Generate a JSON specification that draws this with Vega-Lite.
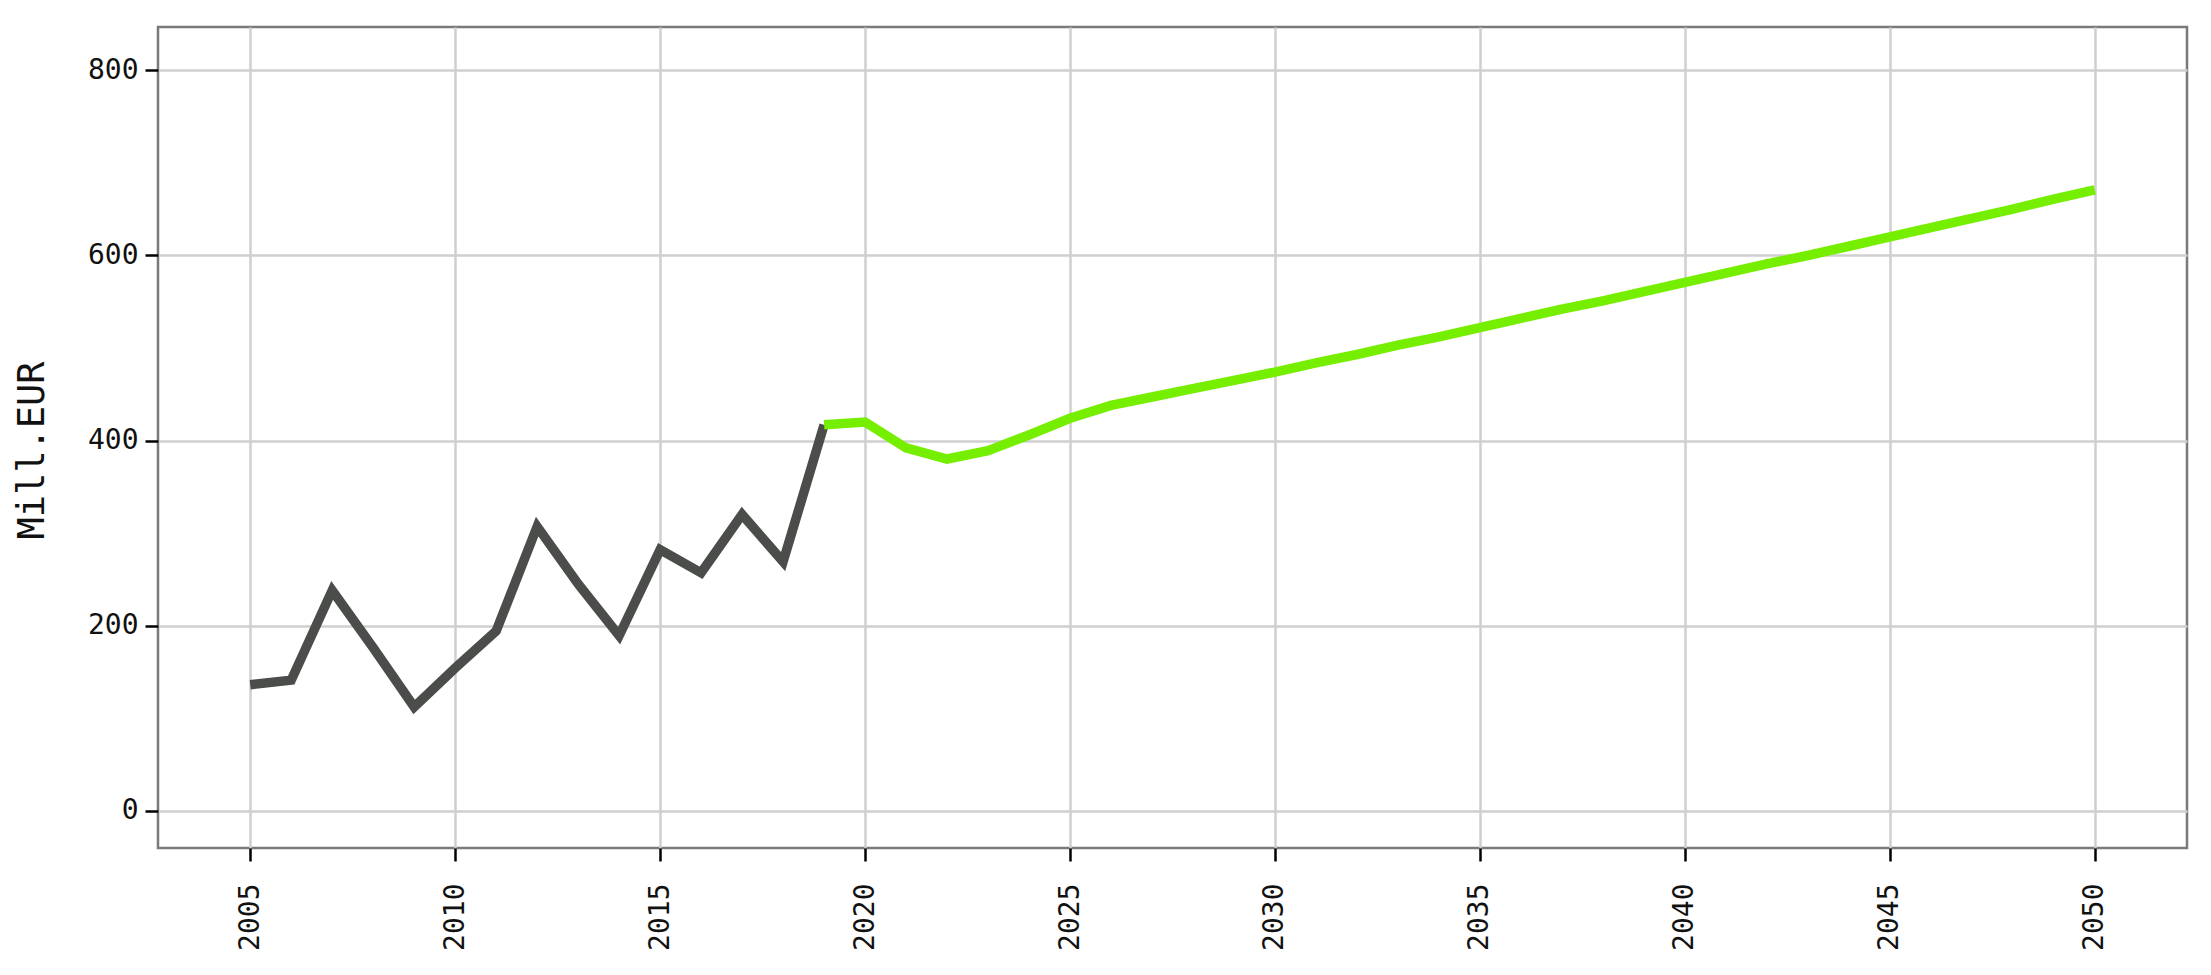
{
  "$schema": "https://vega.github.io/schema/vega-lite/v6.json",
  "autosize": {"type": "none"},
  "padding": {"left": 158, "top": 27, "right": 24, "bottom": 127},
  "width": 2029,
  "height": 821,
  "background": "#ffffff",
  "config": {
    "view": {"stroke": "#7a7a7a", "strokeWidth": 2.5},
    "axis": {
      "labelFont": "DejaVu Sans Mono",
      "titleFont": "DejaVu Sans Mono",
      "labelColor": "#111111",
      "titleColor": "#111111",
      "gridColor": "#cfcfcf",
      "gridWidth": 2.5,
      "tickColor": "#000000",
      "tickWidth": 2.5,
      "tickSize": 13,
      "domain": false
    }
  },
  "data": {
    "values": [
      {"year": 2005, "value": 136, "series": "Historisch"},
      {"year": 2006, "value": 141, "series": "Historisch"},
      {"year": 2007, "value": 238, "series": "Historisch"},
      {"year": 2008, "value": 176, "series": "Historisch"},
      {"year": 2009, "value": 112, "series": "Historisch"},
      {"year": 2010, "value": 154, "series": "Historisch"},
      {"year": 2011, "value": 194, "series": "Historisch"},
      {"year": 2012, "value": 307, "series": "Historisch"},
      {"year": 2013, "value": 245, "series": "Historisch"},
      {"year": 2014, "value": 189, "series": "Historisch"},
      {"year": 2015, "value": 282, "series": "Historisch"},
      {"year": 2016, "value": 257, "series": "Historisch"},
      {"year": 2017, "value": 320, "series": "Historisch"},
      {"year": 2018, "value": 269, "series": "Historisch"},
      {"year": 2019, "value": 417, "series": "Historisch"},
      {"year": 2019, "value": 417, "series": "Prognose"},
      {"year": 2020, "value": 420, "series": "Prognose"},
      {"year": 2021, "value": 392, "series": "Prognose"},
      {"year": 2022, "value": 380, "series": "Prognose"},
      {"year": 2023, "value": 389, "series": "Prognose"},
      {"year": 2024, "value": 406, "series": "Prognose"},
      {"year": 2025, "value": 424, "series": "Prognose"},
      {"year": 2026, "value": 438, "series": "Prognose"},
      {"year": 2027, "value": 447, "series": "Prognose"},
      {"year": 2028, "value": 456, "series": "Prognose"},
      {"year": 2029, "value": 465, "series": "Prognose"},
      {"year": 2030, "value": 474, "series": "Prognose"},
      {"year": 2031, "value": 484, "series": "Prognose"},
      {"year": 2032, "value": 493, "series": "Prognose"},
      {"year": 2033, "value": 503, "series": "Prognose"},
      {"year": 2034, "value": 512, "series": "Prognose"},
      {"year": 2035, "value": 522, "series": "Prognose"},
      {"year": 2036, "value": 532, "series": "Prognose"},
      {"year": 2037, "value": 542, "series": "Prognose"},
      {"year": 2038, "value": 551, "series": "Prognose"},
      {"year": 2039, "value": 561, "series": "Prognose"},
      {"year": 2040, "value": 571, "series": "Prognose"},
      {"year": 2041, "value": 581, "series": "Prognose"},
      {"year": 2042, "value": 591, "series": "Prognose"},
      {"year": 2043, "value": 600, "series": "Prognose"},
      {"year": 2044, "value": 610, "series": "Prognose"},
      {"year": 2045, "value": 620, "series": "Prognose"},
      {"year": 2046, "value": 630, "series": "Prognose"},
      {"year": 2047, "value": 640, "series": "Prognose"},
      {"year": 2048, "value": 650, "series": "Prognose"},
      {"year": 2049, "value": 661, "series": "Prognose"},
      {"year": 2050, "value": 671, "series": "Prognose"}
    ]
  },
  "mark": {"type": "line", "strokeWidth": 9.5, "strokeJoin": "miter", "strokeCap": "butt"},
  "encoding": {
    "x": {
      "field": "year",
      "type": "quantitative",
      "scale": {"domain": [2002.75, 2052.25], "nice": false, "zero": false},
      "axis": {
        "title": null,
        "values": [2005, 2010, 2015, 2020, 2025, 2030, 2035, 2040, 2045, 2050],
        "format": "d",
        "labelAngle": -90,
        "labelFontSize": 28,
        "labelPadding": 22
      }
    },
    "y": {
      "field": "value",
      "type": "quantitative",
      "scale": {"domain": [-40.5, 847], "nice": false, "zero": false},
      "axis": {
        "title": "Mill.EUR",
        "values": [0, 200, 400, 600, 800],
        "labelFontSize": 28,
        "labelPadding": 7,
        "titleFontSize": 37,
        "titleFontWeight": "normal",
        "titlePadding": 36,
        "titleY": 423
      }
    },
    "color": {
      "field": "series",
      "type": "nominal",
      "scale": {"domain": ["Historisch", "Prognose"], "range": ["#4b4d4a", "#76ee00"]},
      "legend": null
    }
  }
}
